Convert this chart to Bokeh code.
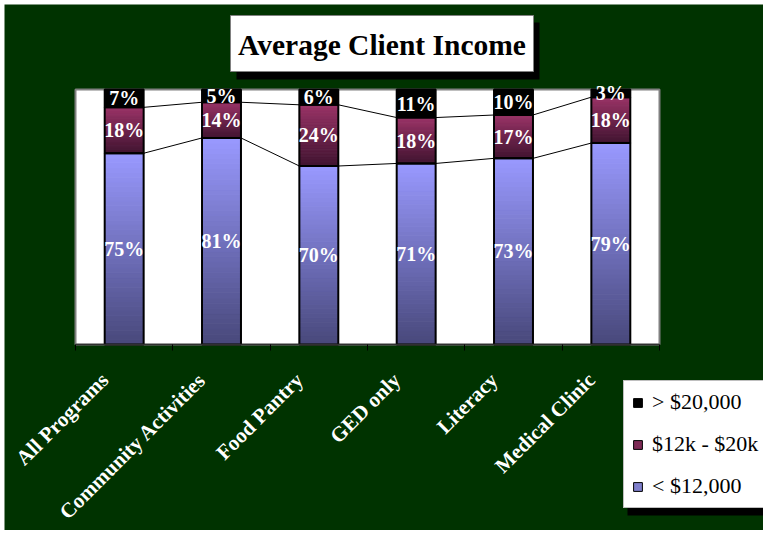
import numpy as np
from bokeh.plotting import figure
from bokeh.models import Range1d, FixedTicker, Label, Legend, LegendItem, ColumnDataSource
from bokeh.core.properties import value
from bokeh.embed import file_html
from bokeh.resources import INLINE

# ---------------- data ----------------
categories = ["All Programs", "Community Activities", "Food Pantry", "GED only", "Literacy", "Medical Clinic"]
under_12k = [75, 81, 70, 71, 73, 79]
mid_12_20k = [18, 14, 24, 18, 17, 18]
over_20k = [7, 5, 6, 11, 10, 3]
series_names = ["< $12,000", "$12k - $20k", "> $20,000"]
title_text = "Average Client Income"

# ---------------- style / layout ----------------
GREEN = "#003300"
SERIF = "Liberation Serif"
BAR_W = 0.4
N = 40
BLUE = ((153, 153, 255), (72, 72, 122))      # top, bottom
MAROON = ((153, 51, 102), (64, 20, 48))      # top, bottom
LABEL_SHIFT = 0.2                              # category labels sit a bit left of the bar

CW, CH = 759, 526          # canvas size (page offset 4,4)
PX_X, PX_Y = 97.333, 2.55  # pixels per data unit
X_START, X_END = -0.5 - 71 / PX_X, 5.5 + 104 / PX_X
Y_START, Y_END = -186 / PX_Y, 100 + 85 / PX_Y


def dx(page_x):
    return X_START + (page_x - 4) / PX_X


def dy(page_y):
    return Y_END - (page_y - 4) / PX_Y


def lerp(c_top, c_bot, t):
    r, g, b = (int(round(c_bot[j] + (c_top[j] - c_bot[j]) * t)) for j in range(3))
    return "#%02x%02x%02x" % (r, g, b)


p = figure(width=CW, height=CH, margin=(4, 0, 5, 4),
           x_range=Range1d(X_START, X_END), y_range=Range1d(Y_START, Y_END),
           output_backend="svg", toolbar_location=None, y_axis_type=None,
           min_border=0)
p.border_fill_color = GREEN
p.background_fill_color = GREEN
p.outline_line_color = None
p.xgrid.visible = False
p.ygrid.visible = False

n = len(categories)
xpos = list(range(n))

# white plot area
p.quad(left=[-0.5], right=[n - 0.5], bottom=[0], top=[100], fill_color="white",
       line_color="#808080", line_width=2)

# gradient slices
sx, sb, st, sc = [], [], [], []
for i in range(n):
    base = 0
    for val, (ctop, cbot) in ((under_12k[i], BLUE), (mid_12_20k[i], MAROON)):
        for k in range(N):
            sx.append(xpos[i])
            sb.append(base + val * k / N)
            st.append(base + val * (k + 1) / N)
            sc.append(lerp(ctop, cbot, (k + 0.5) / N))
        base += val
p.vbar(x="x", bottom="b", top="t", width=BAR_W, fill_color="c", line_color="c", line_width=1,
       source=ColumnDataSource(dict(x=sx, b=sb, t=st, c=sc)))

cum1 = list(under_12k)
cum2 = [a + b for a, b in zip(under_12k, mid_12_20k)]
cum3 = [a + b for a, b in zip(cum2, over_20k)]

# black top segment
p.vbar(x=xpos, bottom=cum2, top=cum3, width=BAR_W, fill_color="black", line_color=None)

# outlines
for lo, hi in (([0] * n, cum1), (cum1, cum2), (cum2, cum3)):
    p.vbar(x=xpos, bottom=lo, top=hi, width=BAR_W, fill_color=None,
           line_color="black", line_width=2)

# series lines
for cum in (cum1, cum2):
    p.segment(x0=[x + BAR_W / 2 for x in xpos[:-1]], y0=cum[:-1],
              x1=[x + 1 - BAR_W / 2 for x in xpos[:-1]], y1=cum[1:],
              line_color="black", line_width=1)

# data labels
lx, ly, lt = [], [], []
for i in range(n):
    for lo, v in ((0, under_12k[i]), (cum1[i], mid_12_20k[i]), (cum2[i], over_20k[i])):
        lx.append(xpos[i])
        ly.append(lo + v / 2)
        lt.append(f"{v}%")
p.text(x=lx, y=ly, text=lt, text_font=value(SERIF), text_font_style="bold",
       text_font_size="20px", text_color="white", text_align="center", text_baseline="middle")

# x axis, drawn at y = 0
label_ticks = [x - LABEL_SHIFT for x in xpos]
overrides = {}
for t, c in zip(label_ticks, categories):
    overrides[t] = c
    overrides[repr(t)] = c
ax = p.xaxis[0]
ax.fixed_location = 0
ax.bounds = (-0.5, n - 0.5)
ax.ticker = FixedTicker(ticks=label_ticks, minor_ticks=[x - 0.5 for x in range(n + 1)])
ax.major_label_overrides = overrides
ax.major_label_orientation = np.pi / 4
ax.major_label_text_font = SERIF
ax.major_label_text_font_style = "bold"
ax.major_label_text_font_size = "21px"
ax.major_label_text_color = "white"
ax.major_label_standoff = 26
ax.major_tick_line_color = None
ax.major_tick_out = 6
ax.major_tick_in = 0
ax.minor_tick_line_color = "black"
ax.minor_tick_out = 6
ax.minor_tick_in = 0
ax.axis_line_color = "#303030"
ax.axis_line_width = 1.5

# title box (shadow + white box) and text
p.quad(left=[dx(236)], right=[dx(539)], top=[dy(22)], bottom=[dy(79)],
       fill_color="black", line_color=None)
p.quad(left=[dx(230)], right=[dx(533)], top=[dy(15)], bottom=[dy(71)],
       fill_color="white", line_color="#808080", line_width=1)
p.add_layout(Label(x=dx(381.5), y=dy(44), text=title_text, text_font=SERIF,
                   text_font_style="bold", text_font_size="29.5px", text_color="black",
                   text_align="center", text_baseline="middle"))

# legend shadow
p.quad(left=[dx(627)], right=[dx(770)], top=[dy(390)], bottom=[dy(515)],
       fill_color="black", line_color=None)

# legend swatch renderers (one invisible point each)
nan = np.array([np.nan])
r_hi = p.vbar(x=nan, top=nan, width=BAR_W, fill_color="black", line_color="black")
r_mid = p.vbar(x=nan, top=nan, width=BAR_W, fill_color="#7d2a55", line_color="black")
r_lo = p.vbar(x=nan, top=nan, width=BAR_W, fill_color="#7f7fcc", line_color="black")

legend = Legend(items=[LegendItem(label=series_names[2], renderers=[r_hi]),
                       LegendItem(label=series_names[1], renderers=[r_mid]),
                       LegendItem(label=series_names[0], renderers=[r_lo])],
                location=(619, 22), background_fill_color="white", background_fill_alpha=1,
                border_line_color="#808080", border_line_width=1, label_text_color="black",
                label_text_font=SERIF, label_text_font_size="22px", glyph_width=11,
                glyph_height=11, label_standoff=9, padding=8, spacing=16, margin=0)
p.add_layout(legend)

open("out.html", "w").write(file_html(p, INLINE))
